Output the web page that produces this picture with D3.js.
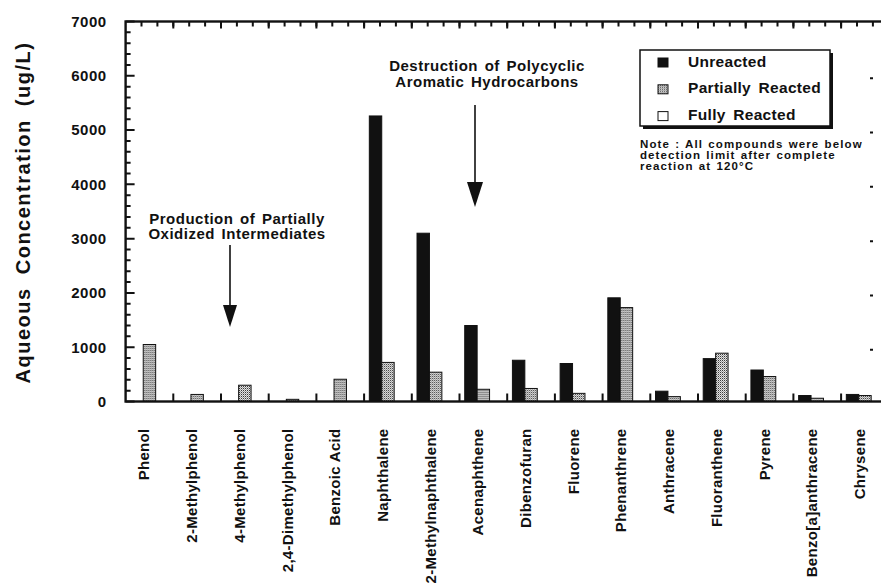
<!DOCTYPE html>
<html>
<head>
<meta charset="utf-8">
<script src="https://cdn.jsdelivr.net/npm/d3@7"></script>
<style>
  html, body { margin: 0; padding: 0; background: #fff; }
  svg { display: block; }
  text { font-family: "Liberation Sans", Arial, Helvetica, sans-serif; font-weight: bold; fill: #111; }
</style>
</head>
<body>
<svg id="chart" width="881" height="584"></svg>
<script>
// ---------------- data ----------------
const categories = ["Phenol", "2-Methylphenol", "4-Methylphenol", "2,4-Dimethylphenol", "Benzoic Acid",
  "Naphthalene", "2-Methylnaphthalene", "Acenaphthene", "Dibenzofuran", "Fluorene", "Phenanthrene",
  "Anthracene", "Fluoranthene", "Pyrene", "Benzo[a]anthracene", "Chrysene"];
const seriesNames = ["Unreacted", "Partially Reacted", "Fully Reacted"];
const unreacted = [0, 0, 0, 0, 0, 5260, 3100, 1400, 760, 700, 1910, 190, 790, 580, 110, 130];
const partiallyReacted = [1050, 130, 300, 40, 410, 720, 540, 225, 240, 150, 1730, 90, 890, 460, 60, 110];
const fullyReacted = [0, 0, 0, 0, 0, 0, 0, 0, 0, 0, 0, 0, 0, 0, 0, 0];
const yTickValues = [0, 1000, 2000, 3000, 4000, 5000, 6000, 7000];
const yTitle = "Aqueous Concentration (ug/L)";
const noteLines = ["Note : All compounds were below", "detection limit after complete", "reaction  at  120°C"];
const annotPAH = ["Destruction of Polycyclic", "Aromatic Hydrocarbons"];
const annotInter = ["Production of Partially", "Oxidized Intermediates"];

// ---------------- layout ----------------
const svg = d3.select("#chart");
const L = 125.6, R = 888.8, T = 21.5, B = 401.5;

const x = d3.scaleBand().domain(categories).range([L, R]).paddingInner(0).paddingOuter(0);
const xs = d3.scaleBand().domain(seriesNames).range([0, x.bandwidth()]).paddingInner(0).paddingOuter(0.42);
const y = d3.scaleLinear().domain([0, 7000]).range([B, T]);
const xi = d3.scaleLinear().domain([0, categories.length]).range([L, R]);

// pattern for partially reacted
const defs = svg.append("defs");
const pat = defs.append("pattern").attr("id", "stipple").attr("patternUnits", "userSpaceOnUse")
  .attr("width", 2).attr("height", 2);
pat.append("rect").attr("width", 2).attr("height", 2).attr("fill", "#e2e2e2");
pat.append("rect").attr("width", 1).attr("height", 1).attr("fill", "#3a3a3a");
pat.append("rect").attr("x", 1).attr("y", 1).attr("width", 1).attr("height", 1).attr("fill", "#9a9a9a");

const fills = { "Unreacted": "#111", "Partially Reacted": "url(#stipple)", "Fully Reacted": "#fff" };
const seriesData = { "Unreacted": unreacted, "Partially Reacted": partiallyReacted, "Fully Reacted": fullyReacted };

// ---------------- bars ----------------
const groups = svg.append("g").selectAll("g").data(categories).join("g")
  .attr("transform", d => `translate(${x(d)},0)`);
groups.selectAll("rect")
  .data((d, i) => seriesNames.map(s => ({ s, v: seriesData[s][i] })))
  .join("rect")
  .attr("x", d => xs(d.s))
  .attr("width", xs.bandwidth())
  .attr("y", d => y(d.v))
  .attr("height", d => Math.max(0.01, B - y(d.v)))
  .attr("fill", d => fills[d.s])
  .attr("stroke", "#111")
  .attr("stroke-width", 1);

// ---------------- frame ----------------
svg.append("rect")
  .attr("x", L).attr("y", T).attr("width", R - L).attr("height", B - T)
  .attr("fill", "none").attr("stroke", "#111").attr("stroke-width", 2.4);

// ---------------- ticks (paths built from the scales) ----------------
function tickPath(d) {
  return svg.append("path").attr("d", d).attr("fill", "none")
    .attr("stroke", "#111").attr("stroke-width", 2);
}
// left: major inward 9px, minor 5px
tickPath(yTickValues.map(v => `M${L},${y(v)}h9`).join(""));
tickPath(d3.range(200, 7000, 200).filter(v => v % 1000 !== 0).map(v => `M${L},${y(v)}h5`).join(""));
// right edge stubs (only the tips are in view)
tickPath(yTickValues.slice(1, 7).map(v => `M870,${y(v) + 2.5}h3`).join(""));
// top: thirds and category boundaries
tickPath(d3.range(1, categories.length * 3).map(k => `M${xi(k / 3)},${T}v5`).join(""));
tickPath(d3.range(1, categories.length).map(k => `M${xi(k)},${T}v7`).join(""));
// bottom: category boundaries pointing up
tickPath(d3.range(1, categories.length).map(k => `M${xi(k)},${B}v-8`).join(""));

// ---------------- axis labels ----------------
const yAxis = d3.axisLeft(y).tickValues(yTickValues).tickSize(0).tickPadding(19).tickFormat(d3.format("d"));
const gy = svg.append("g").attr("transform", `translate(${L},0)`).call(yAxis);
gy.select(".domain").remove();
gy.selectAll("text").style("font-size", "15px").style("letter-spacing", "0.5px").attr("fill", "#111");

const xLab = d3.axisBottom(x).tickSize(0).tickPadding(0);
const gxl = svg.append("g").attr("transform", `translate(0,${B})`).call(xLab);
gxl.select(".domain").remove();
gxl.selectAll("text")
  .attr("transform", "rotate(-90)")
  .attr("x", -27).attr("y", 0).attr("dy", "0")
  .style("text-anchor", "end")
  .style("font-size", "15px").style("letter-spacing", "0.3px")
  .attr("fill", "#111");

// y title
svg.append("text")
  .attr("transform", `translate(30,${(T + B) / 2 + 1}) rotate(-90)`)
  .attr("text-anchor", "middle")
  .style("font-size", "20px").style("letter-spacing", "1.5px").style("word-spacing", "6px")
  .text(yTitle);

// ---------------- legend ----------------
const lg = svg.append("g").attr("transform", "translate(640,50)");
lg.append("rect").attr("x", 3).attr("y", 3).attr("width", 190).attr("height", 76).attr("fill", "#111");
lg.append("rect").attr("x", 0).attr("y", 0).attr("width", 190).attr("height", 76)
  .attr("fill", "#fff").attr("stroke", "#111").attr("stroke-width", 1.5);
const lrow = lg.selectAll("g.row").data(seriesNames).join("g").attr("class", "row")
  .attr("transform", (d, i) => `translate(0,${16.5 + i * 26.8})`);
lrow.append("rect").attr("x", 18).attr("y", -8.5).attr("width", 10).attr("height", 9)
  .attr("fill", d => fills[d]).attr("stroke", "#111").attr("stroke-width", 1);
lrow.append("text").attr("x", 48).attr("y", 0)
  .style("font-size", "15.5px").style("letter-spacing", "0.3px").style("word-spacing", "3px")
  .text(d => d);

// ---------------- note ----------------
svg.append("g").selectAll("text").data(noteLines).join("text")
  .attr("x", 640).attr("y", (d, i) => 148.3 + i * 10.8)
  .style("font-size", "11.5px").style("letter-spacing", "1.1px").style("word-spacing", "1px")
  .text(d => d);

// ---------------- annotations ----------------
function annot(lines, cx, baseY, arrowX, arrowTop, arrowTip, headH, headW) {
  const g = svg.append("g");
  g.selectAll("text").data(lines).join("text")
    .attr("x", cx).attr("y", (d, i) => baseY + i * 15.5)
    .attr("text-anchor", "middle")
    .style("font-size", "15px").style("letter-spacing", "0.5px").style("word-spacing", "2px")
    .text(d => d);
  g.append("path").attr("d", `M${arrowX},${arrowTop}V${arrowTip - headH + 1}`)
    .attr("stroke", "#111").attr("stroke-width", 1.6);
  g.append("path")
    .attr("d", d3.line()([[arrowX - headW / 2, arrowTip - headH], [arrowX + headW / 2, arrowTip - headH], [arrowX, arrowTip]]) + "Z")
    .attr("fill", "#111");
}
annot(annotPAH, 487, 71, 475, 105, 207, 25, 16);
annot(annotInter, 237, 223.5, 230, 245, 327, 22, 14);
</script>
</body>
</html>
